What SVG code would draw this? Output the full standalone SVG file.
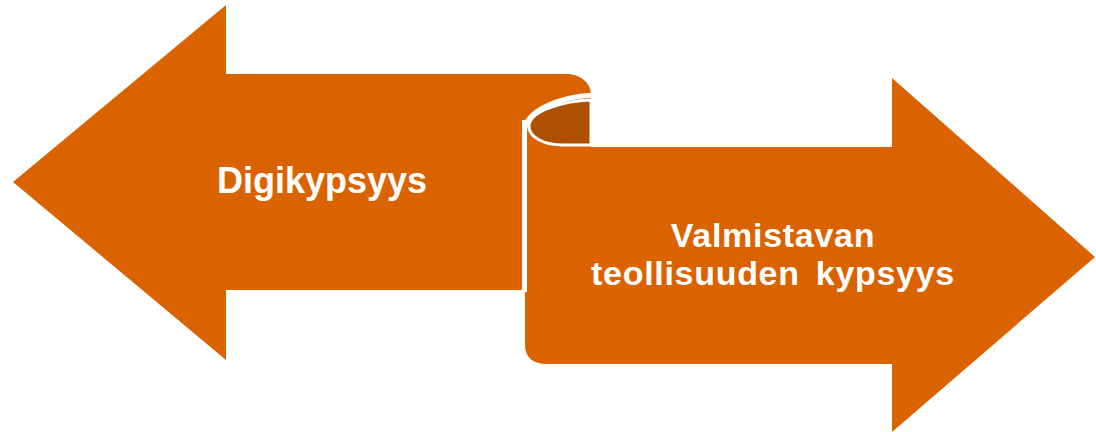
<svg xmlns="http://www.w3.org/2000/svg" width="1096" height="432" viewBox="0 0 1096 432">
<style>
.o{fill:#DA6300}
.d{fill:#AE5000;stroke:#fff;stroke-width:3}
.w{fill:none;stroke:#fff;stroke-width:5}
.t{font-family:"Liberation Sans",Arial,sans-serif;font-weight:bold;font-size:36px;fill:#fff;text-anchor:middle}
.t2{font-size:34px;letter-spacing:0.7px}
</style>
<rect width="1096" height="432" fill="#fff"/>
<g id="left-arrow">
<path class="o" d="M13,182 L226,5 L226,74 L567,74 C580,74 591,83 591,94 L591,120 L522,120 L522,290 L226,290 L226,360 Z"/>
<text class="t" x="322" y="193">Digikypsyys</text>
</g>
<g id="right-arrow">
<path class="o" d="M525,132 C525,112 556,98 591,96 L591,147 L892,147 L892,78 L1095,257 L892,432 L892,364 L547,364 Q525,364 525,344 Z"/>
<path class="w" d="M594,95 C556,97 524.5,112 524.5,132 L524.5,292"/>
<path class="d" d="M591,100 C563,101 529,111 529,126 C529,138 545,145 563,145 L591,145 Z"/>
<text class="t t2" y="247"><tspan x="773">Valmistavan</tspan><tspan x="773" dy="38" word-spacing="6">teollisuuden kypsyys</tspan></text>
</g>
<g id="connectors"></g>
</svg>
